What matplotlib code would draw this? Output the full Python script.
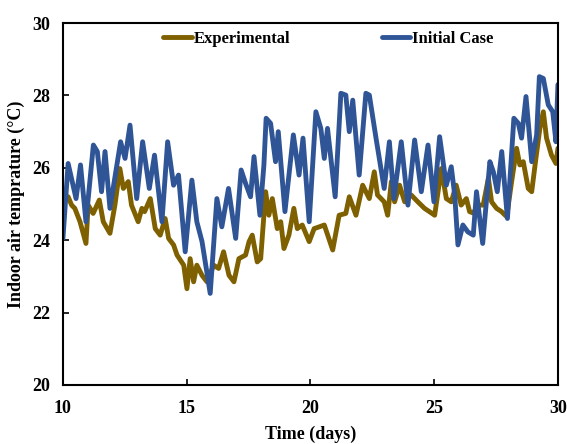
import numpy as np
from matplotlib import pyplot as plt

plt.rcParams['font.family'] = ['Liberation Serif', 'DejaVu Serif']
plt.rcParams['font.weight'] = 'bold'

# measured indoor air temperature
exp_day = [10.00, 10.21, 10.35, 10.48, 10.69, 10.93, 11.02, 11.22, 11.47, 11.63,
           11.90, 12.10, 12.30, 12.44, 12.64, 12.77, 13.04, 13.19, 13.30, 13.53,
           13.73, 13.93, 14.13, 14.27, 14.47, 14.61, 14.88, 15.01, 15.14, 15.28,
           15.41, 15.62, 15.82, 16.09, 16.29, 16.49, 16.71, 16.91, 17.11, 17.38,
           17.52, 17.65, 17.85, 17.99, 18.19, 18.32, 18.46, 18.66, 18.80, 18.93,
           19.13, 19.33, 19.47, 19.67, 19.95, 20.15, 20.36, 20.56, 20.90, 21.16,
           21.43, 21.57, 21.84, 22.11, 22.38, 22.58, 22.71, 22.98, 23.12, 23.27,
           23.40, 23.60, 23.81, 24.07, 24.34, 24.61, 25.02, 25.29, 25.49, 25.69,
           25.89, 26.09, 26.30, 26.43, 26.58, 26.78, 26.98, 27.19, 27.32, 27.52,
           27.72, 27.93, 28.13, 28.33, 28.46, 28.60, 28.80, 28.94, 29.11, 29.27,
           29.41, 29.54, 29.74, 29.92, 30.00]
exp_temp = [25.05, 25.20, 24.97, 24.88, 24.51, 23.91, 24.97, 24.74, 25.11, 24.51,
            24.19, 24.97, 25.98, 25.43, 25.62, 24.97, 24.51, 24.88, 24.79, 25.15,
            24.32, 24.14, 24.60, 24.05, 23.87, 23.59, 23.31, 22.66, 23.49, 22.85,
            23.31, 23.03, 22.85, 23.31, 23.22, 23.68, 23.03, 22.85, 23.49, 23.59,
            23.96, 24.14, 23.40, 23.49, 25.34, 24.69, 25.15, 24.32, 24.51, 23.77,
            24.14, 24.88, 24.32, 24.42, 23.96, 24.32, 24.37, 24.42, 23.73, 24.69,
            24.74, 25.20, 24.69, 25.52, 25.15, 25.89, 25.25, 25.06, 24.69, 25.62,
            25.06, 25.52, 25.06, 25.25, 25.06, 24.88, 24.69, 25.98, 25.15, 25.06,
            25.52, 24.97, 25.15, 24.79, 24.75, 24.97, 24.97, 25.71, 25.06, 24.88,
            24.79, 24.65, 25.62, 26.54, 26.08, 26.17, 25.43, 25.34, 26.26, 27.09,
            27.55, 26.82, 26.35, 26.12, 26.54]

# simulated, initial case
sim_day = [10.00, 10.21, 10.53, 10.71, 10.93, 11.23, 11.39, 11.56, 11.70, 11.90,
           12.33, 12.51, 12.71, 12.98, 13.22, 13.49, 13.70, 14.00, 14.23, 14.47,
           14.67, 14.94, 15.21, 15.41, 15.62, 15.95, 16.22, 16.42, 16.69, 16.98,
           17.20, 17.38, 17.58, 17.72, 17.96, 18.12, 18.21, 18.39, 18.59, 18.70,
           18.97, 19.31, 19.54, 19.70, 19.95, 20.22, 20.42, 20.56, 20.69, 21.00,
           21.23, 21.43, 21.57, 21.71, 21.97, 22.24, 22.38, 22.65, 22.98, 23.19,
           23.37, 23.67, 23.94, 24.21, 24.48, 24.75, 24.99, 25.22, 25.49, 25.69,
           25.83, 25.96, 26.16, 26.36, 26.58, 26.71, 26.96, 27.25, 27.39, 27.55,
           27.73, 27.96, 28.22, 28.40, 28.53, 28.71, 28.94, 29.14, 29.25, 29.41,
           29.61, 29.79, 29.92, 30.00]
sim_temp = [24.05, 26.12, 25.15, 26.08, 24.51, 26.63, 26.45, 25.34, 26.45, 24.88,
            26.72, 26.26, 27.18, 25.15, 26.72, 25.43, 26.35, 24.51, 26.72, 25.52,
            25.80, 23.68, 25.66, 24.51, 23.96, 22.53, 25.15, 24.37, 25.43, 24.05,
            25.94, 25.57, 25.20, 26.31, 24.69, 26.08, 27.37, 27.23, 26.17, 27.00,
            24.79, 26.91, 25.80, 26.82, 24.51, 27.55, 27.09, 26.26, 27.09, 25.20,
            28.06, 28.01, 27.00, 27.87, 25.80, 28.06, 28.01, 26.82, 25.43, 26.72,
            25.15, 26.72, 24.97, 26.77, 25.34, 26.63, 25.06, 26.86, 25.52, 26.03,
            25.25, 23.87, 24.42, 24.23, 24.14, 25.34, 23.91, 26.17, 25.89, 25.34,
            26.45, 24.60, 27.37, 27.23, 26.82, 27.97, 26.17, 26.91, 28.52, 28.47,
            27.74, 27.55, 26.72, 28.30]

fig = plt.figure(figsize=(5.67, 4.44), dpi=100)
ax = fig.add_axes([0.111, 0.133, 0.873, 0.815])

ax.plot(exp_day, exp_temp, color='#7f6000', lw=3.5, solid_joinstyle='round',
        solid_capstyle='round', label='Experimental')
ax.plot(sim_day, sim_temp, color='#2f5597', lw=3.5, solid_joinstyle='round',
        solid_capstyle='round', label='Initial Case')

ax.set_xlim(10, 30)
ax.set_ylim(20, 30)
ax.set_xticks([10, 15, 20, 25, 30])
ax.set_yticks([20, 22, 24, 26, 28, 30])
ax.tick_params(direction='in', length=4, width=1.2, labelsize=13)
ax.tick_params(axis='x', pad=11)
ax.tick_params(axis='y', pad=9)
for s in ax.spines.values():
    s.set_linewidth(1.5)

ax.set_xlabel('Time (days)', fontsize=13, fontweight='bold', labelpad=6)
ax.set_ylabel('Indoor air temprature (\u00b0C)', fontsize=13, fontweight='bold',
              labelpad=5)

ax.legend(loc='center', bbox_to_anchor=(0.536, 0.956), ncol=2, frameon=False,
          fontsize=12, handlelength=1.7, handletextpad=0.1, columnspacing=5.5)

fig.savefig('out.png', dpi=100)
